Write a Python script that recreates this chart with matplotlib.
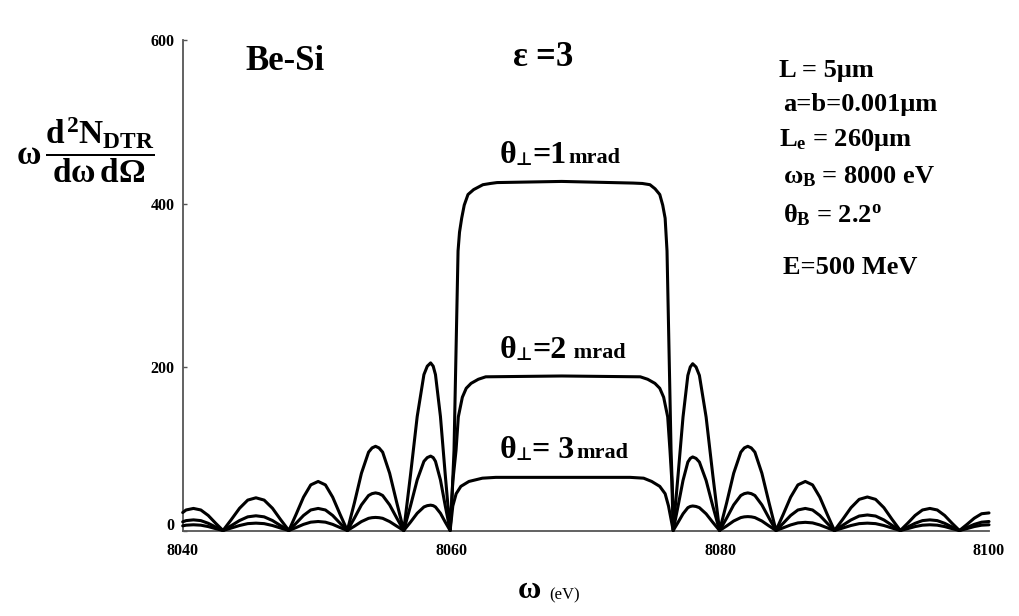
import matplotlib
matplotlib.use("Agg")
import matplotlib.pyplot as plt
from matplotlib.transforms import ScaledTranslation

plt.rcParams['font.family'] = ['Liberation Serif', 'DejaVu Serif']
plt.rcParams['font.weight'] = 'bold'
plt.rcParams['mathtext.fontset'] = 'custom'
plt.rcParams['mathtext.rm'] = 'Liberation Serif:bold'
plt.rcParams['mathtext.it'] = 'Liberation Serif:bold'
plt.rcParams['mathtext.bf'] = 'Liberation Serif:bold'

# ---------------- data ----------------
# photon energy samples of the side lobes left of the Bragg plateau (eV)
omega_left = [8040.0, 8040.25, 8040.8, 8041.35, 8041.9, 8042.45, 8043.0,
              8043.61, 8044.23, 8044.84, 8045.45, 8046.06, 8046.68, 8047.29, 8047.9,
              8048.44, 8048.99, 8049.53, 8050.08, 8050.62, 8051.16, 8051.71, 8052.25,
              8052.78, 8053.30, 8053.83, 8054.09, 8054.35, 8054.61, 8054.88, 8055.40,
              8055.93, 8056.45,
              8056.95, 8057.45, 8057.95, 8058.2, 8058.45, 8058.64, 8058.81, 8059.18, 8059.54]
# side lobes right of the plateau (eV)
omega_right = [8076.86, 8077.23, 8077.59, 8077.77, 8077.95, 8078.2, 8078.45, 8078.95,
               8079.45, 8079.95,
               8080.48, 8081.0, 8081.53, 8081.79, 8082.05, 8082.31, 8082.58, 8083.1,
               8083.63, 8084.15,
               8084.69, 8085.24, 8085.78, 8086.33, 8086.87, 8087.41, 8087.96, 8088.5,
               8089.11, 8089.73, 8090.34, 8090.95, 8091.56, 8092.18, 8092.79, 8093.4,
               8093.95, 8094.5, 8095.05, 8095.6, 8096.15, 8096.7, 8097.25, 8097.8,
               8098.35, 8098.9, 8099.45, 8100.0]

# theta_perp = 1 mrad
left_1 = [22, 25.1, 27, 25.1, 18.4, 8.9, 0,
          13.2, 27.2, 37.2, 40, 37.2, 27.2, 13.2, 0,
          19.8, 40.8, 55.8, 60, 55.8, 40.8, 19.8, 0,
          34, 70, 95.8, 101, 103, 101, 95.8, 70, 34, 0,
          67.7, 139.4, 190.7, 201, 205, 201, 190.7, 139.4, 67.7]
plateau_omega_1 = [8059.9, 8060.05, 8060.19, 8060.34, 8060.49, 8060.6, 8060.76, 8060.95,
                   8061.23, 8061.65, 8062.34, 8062.9, 8063.39, 8068.2, 8073.5, 8074.2,
                   8074.77, 8075.15, 8075.5, 8075.72, 8075.9, 8076.04, 8076.19, 8076.34,
                   8076.45, 8076.5]
plateau_1 = [0, 45, 98, 220, 342, 365, 382, 398, 411, 417, 423, 424.5, 425.6, 427, 425,
             424.5, 423, 418, 411, 398, 382, 342, 220, 98, 45, 0]
right_1 = [67.3, 138.7, 189.7, 200, 204, 200, 189.7, 138.7, 67.3, 0,
           34, 70, 95.8, 101, 103, 101, 95.8, 70, 34, 0,
           19.8, 40.8, 55.8, 60, 55.8, 40.8, 19.8, 0,
           13.5, 27.9, 38.1, 41, 38.1, 27.9, 13.5, 0,
           8.9, 18.4, 25.1, 27, 25.1, 18.4, 8.9, 0,
           7.3, 15, 20.5, 21.5]

# theta_perp = 2 mrad
left_2 = [10.6, 12.1, 13, 12.1, 8.8, 4.3, 0,
          5.9, 12.2, 16.7, 18, 16.7, 12.2, 5.9, 0,
          8.9, 18.4, 25.1, 27, 25.1, 18.4, 8.9, 0,
          15.2, 31.3, 42.8, 45.1, 46, 45.1, 42.8, 31.3, 15.2, 0,
          30, 61.9, 84.6, 89.2, 91, 89.2, 84.6, 61.9, 30]
plateau_omega_2 = [8059.9, 8060.1, 8060.34, 8060.51, 8060.81, 8061.1, 8061.46, 8062.0,
                   8062.55, 8068.2, 8074.05, 8074.6, 8075.14, 8075.5, 8075.79, 8076.09,
                   8076.26, 8076.4, 8076.5]
plateau_2 = [0, 60, 98, 139, 163, 174, 180, 185, 188, 189, 188, 185, 180, 174, 163, 139,
             98, 60, 0]
right_2 = [29.7, 61.2, 83.7, 88.2, 90, 88.2, 83.7, 61.2, 29.7, 0,
           15.2, 31.3, 42.8, 45.1, 46, 45.1, 42.8, 31.3, 15.2, 0,
           8.9, 18.4, 25.1, 27, 25.1, 18.4, 8.9, 0,
           6.3, 12.9, 17.7, 19, 17.7, 12.9, 6.3, 0,
           4.3, 8.8, 12.1, 13, 12.1, 8.8, 4.3, 0,
           3.6, 7.5, 10.2, 11]

# theta_perp = 3 mrad
left_3 = [5.7, 6.5, 7, 6.5, 4.8, 2.3, 0,
          3.0, 6.1, 8.4, 9, 8.4, 6.1, 3.0, 0,
          3.6, 7.5, 10.2, 11, 10.2, 7.5, 3.6, 0,
          5.3, 10.9, 14.9, 15.7, 16, 15.7, 14.9, 10.9, 5.3, 0,
          10.2, 21.1, 28.8, 30.4, 31, 30.4, 28.8, 21.1, 10.2]
plateau_omega_3 = [8059.9, 8060.1, 8060.35, 8060.7, 8061.3, 8062.3, 8063.3, 8068.2,
                   8073.3, 8074.3, 8074.9, 8075.5, 8075.9, 8076.15, 8076.5]
plateau_3 = [0, 30, 45, 54, 60, 64, 65, 65, 65, 64, 60, 54, 45, 30, 0]
right_3 = [9.9, 20.4, 27.9, 29.4, 30, 29.4, 27.9, 20.4, 9.9, 0,
           5.6, 11.6, 15.8, 16.7, 17, 16.7, 15.8, 11.6, 5.6, 0,
           3.3, 6.8, 9.3, 10, 9.3, 6.8, 3.3, 0,
           3.0, 6.1, 8.4, 9, 8.4, 6.1, 3.0, 0,
           2.3, 4.8, 6.5, 7, 6.5, 4.8, 2.3, 0,
           2.3, 4.8, 6.5, 7]

x_ticks = [8040, 8060, 8080, 8100]
y_ticks = [0, 200, 400, 600]

# ---------------- figure ----------------
W, H = 1019, 616
fig = plt.figure(figsize=(W / 100, H / 100), dpi=100)
fig.patch.set_facecolor('white')


def fx(px):
    return px / W


def fy(py):
    return 1 - py / H


ax = fig.add_axes([fx(182.7), fy(530.5), fx(989) - fx(182.7), fy(40) - fy(530.5)])

series = [
    (left_1, plateau_omega_1, plateau_1, right_1),
    (left_2, plateau_omega_2, plateau_2, right_2),
    (left_3, plateau_omega_3, plateau_3, right_3),
]
for left, pom, pval, right in series:
    xs = omega_left + pom + omega_right
    ys = left + pval + right
    ax.plot(xs, ys, color='black', lw=2.2, solid_joinstyle='round',
            solid_capstyle='round', clip_on=False, zorder=3)

ax.set_xlim(8040, 8100)
ax.set_ylim(0, 600)
for s in ['top', 'right']:
    ax.spines[s].set_visible(False)
for s in ['left', 'bottom']:
    ax.spines[s].set_color('#555555')
    ax.spines[s].set_linewidth(1.3)
ax.set_xticks(x_ticks)
ax.set_yticks(y_ticks)
ax.set_xticklabels([str(v) for v in x_ticks])
ax.set_yticklabels([str(v) for v in y_ticks])
ax.tick_params(axis='both', direction='in', length=3, width=1, color='#555555',
               labelsize=11.5, pad=6)
ax.tick_params(axis='x', length=0, pad=9)
for lab in ax.get_xticklabels() + ax.get_yticklabels():
    lab.set_fontweight('bold')
    lab.set_family(['Liberation Serif', 'DejaVu Serif'])
# the "0" label sits a little above the axis line in the reference
zero_lab = ax.get_yticklabels()[0]
zero_lab.set_transform(zero_lab.get_transform() +
                       ScaledTranslation(0, 7 / 100, fig.dpi_scale_trans))
ax.patch.set_alpha(0)

# ---------------- texts ----------------
fig.text(fx(285), fy(62), 'Be-Si', fontsize=25, fontweight='bold', ha='center', va='center')
fig.text(fx(543), fy(58), r'$\epsilon$ =3', fontsize=25, fontweight='bold', ha='center',
         va='center')

right_lines = [
    (70, r'L = 5μm'),
    (104, r'a=b=0.001μm'),
    (140, r'L$_{e}$ = 260μm'),
    (177, r'$\omega_{B}$ = 8000 eV'),
    (215, r'$\theta_{B}$ = 2.2$^{o}$'),
    (268, r'E=500 MeV'),
]
for i, (py, txt) in enumerate(right_lines):
    x0 = 779 if i in (0, 2) else 783
    fig.text(fx(x0), fy(py), txt, fontsize=19, fontweight='bold', ha='left', va='center')

# theta labels, built from pieces (theta, subscript perp, "=n", "mrad")
theta_labels = [(163, '=1', 'mrad'), (358, '=2', ' mrad'), (458, '= 3', 'mrad')]
for py, eq, unit in theta_labels:
    t1 = fig.text(fx(500), fy(py), 'θ', fontsize=23, fontweight='bold', ha='left',
                  va='baseline')
    t2 = ax.annotate('⊥', xy=(0.95, 0.02), xycoords=t1, fontsize=13, fontweight='bold',
                     family=['DejaVu Sans'], ha='left', va='bottom', annotation_clip=False)
    t3 = ax.annotate(eq, xy=(1.0, 0.0), xycoords=(t2, t1), fontsize=23, fontweight='bold',
                     ha='left', va='bottom', annotation_clip=False)
    ax.annotate(unit, xy=(1.05, 0.06), xycoords=(t3, t1), fontsize=16, fontweight='bold',
                ha='left', va='bottom', annotation_clip=False)

# y label as fraction
fig.text(fx(16), fy(150), r'$\omega\,\dfrac{d^{2}N_{DTR}}{d\omega\,d\Omega}$', fontsize=24,
         ha='left', va='center')

# x label
fig.text(fx(541), fy(591), r'$\omega$', fontsize=23, fontweight='bold', ha='right',
         va='center')
fig.text(fx(549), fy(595), '(eV)', fontsize=12, fontweight='normal', ha='left', va='center')

fig.savefig('out.png', dpi=100)
